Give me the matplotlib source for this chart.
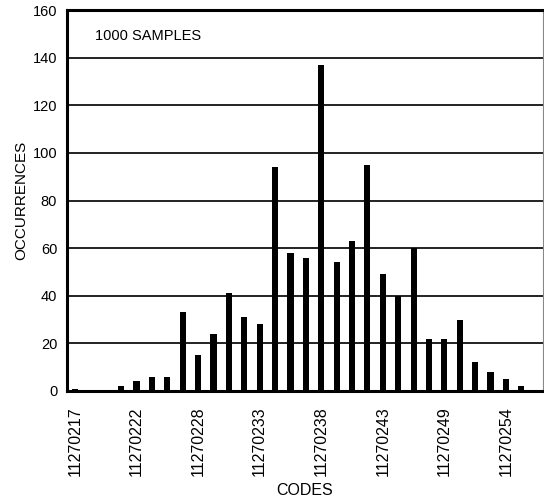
import matplotlib
matplotlib.use("Agg")
import matplotlib.pyplot as plt
import numpy as np

# histogram of output codes, one bar per code bin
bin_index = [0, 3, 4, 5, 6, 7, 8, 9, 10, 11, 12, 13, 14, 15, 16, 17, 18, 19,
             20, 21, 22, 23, 24, 25, 26, 27, 28, 29]
occurrences = [1, 2, 4, 6, 6, 33, 15, 24, 41, 31, 28, 94, 58, 56, 137, 54, 63, 95,
               49, 40, 60, 22, 22, 30, 12, 8, 5, 2]

tick_pos = [0, 4, 8, 12, 16, 20, 24, 28]
tick_labels = ["11270217", "11270222", "11270228", "11270233",
               "11270238", "11270243", "11270249", "11270254"]

plt.rcParams["font.family"] = ["Liberation Sans", "DejaVu Sans"]


def main():
    fig = plt.figure(figsize=(5.44, 5.0), dpi=100)
    ax = fig.add_axes([0.123, 0.218, 0.875, 0.762])

    ax.bar(bin_index, occurrences, width=0.40, color="black", zorder=3)

    ax.set_ylim(0, 160)
    ax.set_xlim(-0.52, 30.4)
    ax.set_yticks(np.arange(0, 161, 20))
    ax.set_xticks(tick_pos)
    ax.set_xticklabels(tick_labels, rotation=90)
    ax.tick_params(axis="both", length=0)
    ax.tick_params(axis="x", pad=11, labelsize=11.5)
    ax.tick_params(axis="y", pad=7, labelsize=10.5)

    ax.yaxis.grid(True, color="#111111", linewidth=1.3, zorder=1)
    ax.set_axisbelow(True)

    for side in ["left", "top", "bottom"]:
        ax.spines[side].set_linewidth(2.2)
    ax.spines["right"].set_linewidth(0.8)
    ax.spines["right"].set_color("#888888")

    ax.set_xlabel("CODES", fontsize=11.5, labelpad=5)
    ax.set_ylabel("OCCURRENCES", fontsize=11, labelpad=3)

    ax.text(0.059, 0.932, "1000 SAMPLES", transform=ax.transAxes,
            fontsize=10.5, va="center", ha="left")

    fig.savefig("out.png", dpi=100)


if __name__ == "__main__":
    main()
